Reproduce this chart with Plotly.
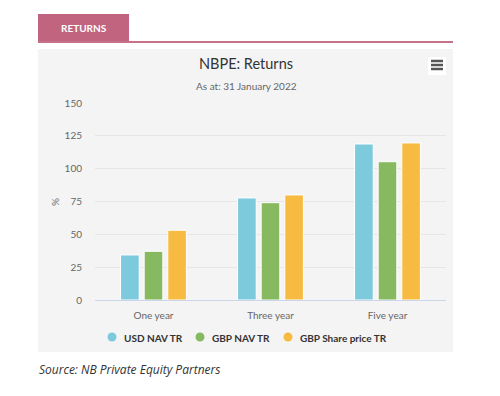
import plotly.graph_objects as go

categories = ["One year", "Three year", "Five year"]
usd_nav_tr = [34.3, 77.7, 118.8]
gbp_nav_tr = [37.1, 74.1, 105.3]
gbp_share_tr = [53.1, 80.0, 119.6]
series_names = ["USD NAV TR", "GBP NAV TR", "GBP Share price TR"]
series_colors = ["#7ecadd", "#86b960", "#f7bb42"]
y_ticks = [0, 25, 50, 75, 100, 125, 150]

W, H = 500, 396
L, R, T, B = 95, 446, 103, 300  # plot area in pixels

def px(x):
    return (x - L) / (R - L)

def py(y):
    return (B - y) / (B - T)

FONT = "Lato, Open Sans, sans-serif"

fig = go.Figure()
for name, vals, col in zip(series_names, [usd_nav_tr, gbp_nav_tr, gbp_share_tr], series_colors):
    fig.add_trace(go.Bar(x=categories, y=vals, name=name, marker=dict(color=col, line=dict(color="white", width=1)),
                         showlegend=False, hoverinfo="x+y+name"))

shapes = [
    dict(type="rect", xref="paper", yref="paper", x0=px(38), x1=px(453), y0=py(352), y1=py(49),
         fillcolor="#f4f4f4", line=dict(width=0), layer="below"),
    dict(type="rect", xref="paper", yref="paper", x0=px(38), x1=px(129), y0=py(41.5), y1=py(14),
         fillcolor="#c1647f", line=dict(width=0), layer="below"),
    dict(type="rect", xref="paper", yref="paper", x0=px(38), x1=px(453), y0=py(43), y1=py(41),
         fillcolor="#c8718a", line=dict(width=0), layer="below"),
    dict(type="rect", xref="paper", yref="paper", x0=px(428), x1=px(446), y0=py(75), y1=py(57),
         fillcolor="#ffffff", line=dict(width=0), layer="below"),
]
for yy in (61, 65, 69):
    shapes.append(dict(type="line", xref="paper", yref="paper", x0=px(431), x1=px(443), y0=py(yy), y1=py(yy),
                       line=dict(color="#555555", width=2.5)))

annotations = [
    dict(text="<b>RETURNS</b>", xref="paper", yref="paper", x=px(83.5), y=py(27.5), showarrow=False,
         font=dict(family=FONT, size=10, color="white"), xanchor="center", yanchor="middle"),
    dict(text="NBPE: Returns", xref="paper", yref="paper", x=px(246), y=py(63), showarrow=False,
         font=dict(family=FONT, size=14.5, color="#333333"), xanchor="center", yanchor="middle"),
    dict(text="As at: 31 January 2022", xref="paper", yref="paper", x=px(246), y=py(86), showarrow=False,
         font=dict(family=FONT, size=10, color="#666666"), xanchor="center", yanchor="middle"),
    dict(text="%", xref="paper", yref="paper", x=px(55), y=py(202), showarrow=False, textangle=-90,
         font=dict(family=FONT, size=10, color="#666666"), xanchor="center", yanchor="middle"),
    dict(text="<i>Source: NB Private Equity Partners</i>", xref="paper", yref="paper", x=px(37), y=py(369),
         showarrow=False, font=dict(family="Open Sans, sans-serif", size=12, color="#333333"),
         xanchor="left", yanchor="middle"),
]

# legend (circle markers + bold labels), built from the series lists
legend_x = [112, 200, 288]
for name, col, lx in zip(series_names, series_colors, legend_x):
    shapes.append(dict(type="circle", xref="paper", yref="paper", x0=px(lx - 4.5), x1=px(lx + 4.5),
                       y0=py(341.5), y1=py(332.5), fillcolor=col, line=dict(width=0)))
    annotations.append(dict(text="<b>" + name + "</b>", xref="paper", yref="paper", x=px(lx + 9.5), y=py(337.5),
                            showarrow=False, font=dict(family=FONT, size=10, color="#333333"),
                            xanchor="left", yanchor="middle"))

fig.update_layout(
    width=W, height=H,
    margin=dict(l=L, r=W - R, t=T, b=H - B, pad=0),
    paper_bgcolor="white", plot_bgcolor="rgba(0,0,0,0)",
    barmode="group", bargap=0.395, bargroupgap=0.21,
    shapes=shapes, annotations=annotations,
    font=dict(family=FONT, color="#666666"),
    showlegend=False,
    xaxis=dict(showgrid=False, showline=True, linecolor="#ccd6eb", linewidth=1, ticks="",
               ticklabelstandoff=6, tickfont=dict(size=10, color="#666666"), fixedrange=True),
    yaxis=dict(range=[0, 150], tickvals=y_ticks, showgrid=True, gridcolor="#e6e6e6", gridwidth=1,
               zeroline=False, ticks="", ticklabelstandoff=12,
               tickfont=dict(size=10, color="#666666"), fixedrange=True),
)

fig.write_html("out.html", config={"displayModeBar": False},
               post_script="document.body.style.margin='0';")
